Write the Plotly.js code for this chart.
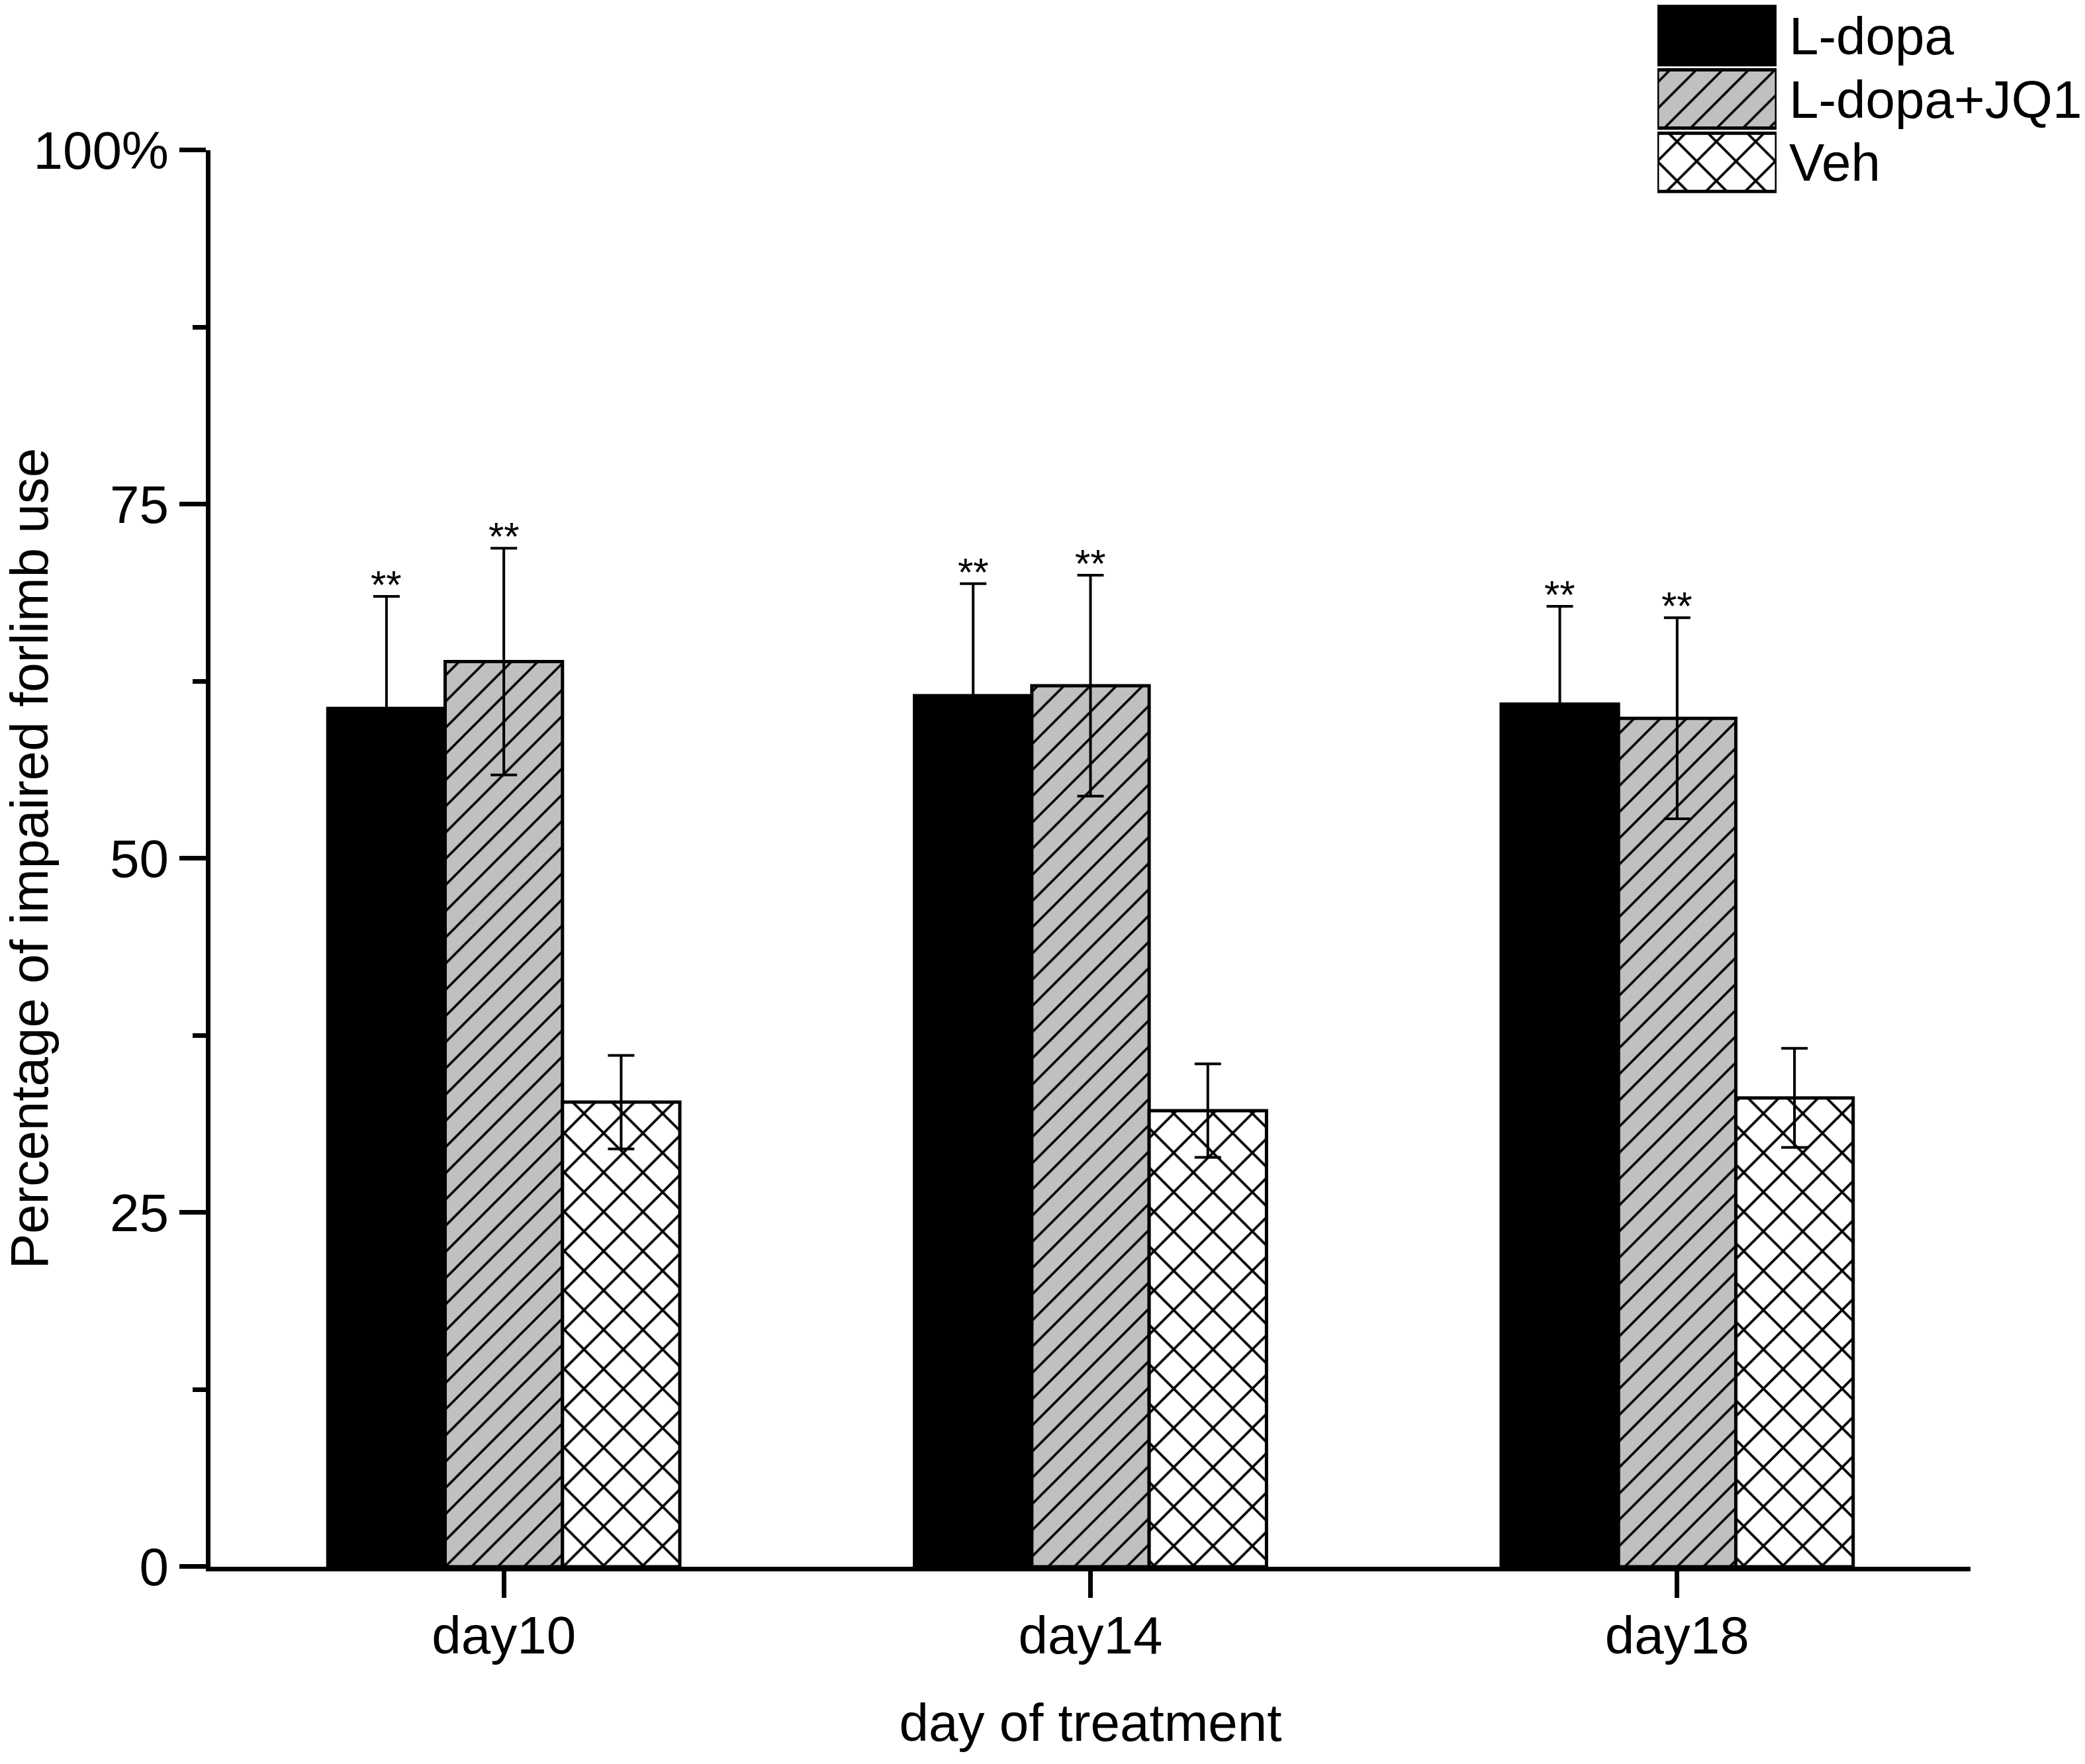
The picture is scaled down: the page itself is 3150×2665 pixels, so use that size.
<!DOCTYPE html>
<html>
<head>
<meta charset="utf-8">
<script src="https://cdn.plot.ly/plotly-3.0.1.min.js"></script>
<style>
  body { margin: 0; background: #fff; }
  #chart { width: 3150px; height: 2665px; }
</style>
</head>
<body>
<div id="chart"></div>
<script>
// categories and series
const DAYS = ['day10', 'day14', 'day18'];
const SERIES = ['L-dopa', 'L-dopa+JQ1', 'Veh'];

// percentage of impaired forelimb use (mean and error)
const L_DOPA = [60.6, 61.5, 60.9];
const L_DOPA_ERR = [7.9, 7.9, 6.9];
const L_DOPA_JQ1 = [63.9, 62.2, 59.9];
const L_DOPA_JQ1_ERR = [8.0, 7.8, 7.1];
const VEH = [32.8, 32.2, 33.1];
const VEH_ERR = [3.3, 3.3, 3.5];

// significance marks over the bars
const L_DOPA_SIG = ['**', '**', '**'];
const L_DOPA_JQ1_SIG = ['**', '**', '**'];
const VEH_SIG = ['', '', ''];

// y ticks
const Y_TICKS = [0, 25, 50, 75, 100];
const Y_TICK_TEXT = ['0', '25', '50', '75', '100%'];

// styling per series
const FILL = ['#000000', '#c0c0c0', '#ffffff'];
const HATCH = ['', '/', 'x'];
const HATCH_SIZE = [10, 28, 42];
const HATCH_SOLIDITY = [0.1, 0.13, 0.17];

const MEANS = [L_DOPA, L_DOPA_JQ1, VEH];
const ERRS = [L_DOPA_ERR, L_DOPA_JQ1_ERR, VEH_ERR];
const SIGS = [L_DOPA_SIG, L_DOPA_JQ1_SIG, VEH_SIG];

const BARGAP = 0.4;
const FONT = "'Liberation Sans', Arial, Helvetica, sans-serif";

function barMarker(i) {
    return {
        color: FILL[i],
        line: { color: '#000', width: 5 },
        pattern: {
            shape: HATCH[i],
            bgcolor: FILL[i],
            fgcolor: '#000',
            fillmode: 'replace',
            size: HATCH_SIZE[i],
            solidity: HATCH_SOLIDITY[i]
        }
    };
}

const traces = SERIES.map((name, i) => ({
    type: 'bar',
    name,
    x: DAYS,
    y: MEANS[i],
    xaxis: 'x', yaxis: 'y',
    marker: barMarker(i),
    error_y: { type: 'data', array: ERRS[i], visible: true, color: '#000', thickness: 4, width: 20 },
    hoverinfo: 'skip'
}));

// legend swatches: one horizontal bar per series on a small axis pair in the corner
SERIES.forEach((name, i) => {
    traces.push({
        type: 'bar',
        orientation: 'h',
        name: name + ' (legend)',
        y: [name],
        x: [1],
        width: 0.92,
        offsetgroup: 'legend',
        xaxis: 'x2', yaxis: 'y2',
        marker: barMarker(i),
        hoverinfo: 'skip'
    });
});

// slot width of one bar inside a group, in category units
const slot = (1 - BARGAP) / SERIES.length;
const annotations = [];
SERIES.forEach((s, i) => {
    DAYS.forEach((d, j) => {
        if (!SIGS[i][j]) return;
        annotations.push({
            xref: 'x', yref: 'y',
            x: j + (i - (SERIES.length - 1) / 2) * slot,
            y: MEANS[i][j] + ERRS[i][j],
            text: SIGS[i][j],
            showarrow: false,
            yanchor: 'bottom',
            yshift: -18,
            font: { family: FONT, size: 60, color: '#000' }
        });
    });
});

const layout = {
    width: 3150,
    height: 2665,
    margin: { l: 318, r: 173, t: 6, b: 298 },
    paper_bgcolor: '#fff',
    plot_bgcolor: 'rgba(0,0,0,0)',
    font: { family: FONT, size: 80, color: '#000' },
    barmode: 'group',
    bargap: BARGAP,
    bargroupgap: 0,
    showlegend: false,
    xaxis: {
        domain: [0, 1],
        anchor: 'y',
        type: 'category',
        range: [-0.5, 2.5],
        showline: true, linecolor: '#000', linewidth: 7,
        ticks: 'outside', ticklen: 40, tickwidth: 7, tickcolor: '#000',
        ticklabelstandoff: -12,
        showgrid: false, zeroline: false,
        tickfont: { size: 80 },
        automargin: false,
        title: { text: 'day of treatment', font: { size: 80 }, standoff: 62 }
    },
    yaxis: {
        domain: [0, 0.9064],
        anchor: 'x',
        range: [0, 100],
        tickmode: 'array',
        tickvals: Y_TICKS,
        ticktext: Y_TICK_TEXT,
        showline: true, linecolor: '#000', linewidth: 7,
        ticks: 'outside', ticklen: 40, tickwidth: 7, tickcolor: '#000',
        minor: { tickmode: 'linear', tick0: 0, dtick: 12.5, ticks: 'outside', ticklen: 20, tickwidth: 7, tickcolor: '#000', showgrid: false },
        showgrid: false, zeroline: false,
        tickfont: { size: 80 },
        automargin: false,
        title: { text: 'Percentage of impaired forlimb use', font: { size: 80 }, standoff: 30 }
    },
    xaxis2: {
        domain: [0.8221, 0.8898],
        anchor: 'y2',
        range: [0, 1],
        visible: false,
        fixedrange: true
    },
    yaxis2: {
        domain: [0.8784, 1],
        anchor: 'x2',
        type: 'category',
        categoryorder: 'array',
        categoryarray: SERIES,
        tickmode: 'array',
        tickvals: SERIES,
        ticktext: SERIES,
        autorange: 'reversed',
        side: 'right',
        showline: false, showgrid: false, zeroline: false,
        ticks: '',
        ticklabelstandoff: 18,
        tickfont: { size: 80 },
        automargin: false,
        fixedrange: true
    },
    annotations
};

Plotly.newPlot('chart', traces, layout, { displayModeBar: false, staticPlot: true });
</script>
</body>
</html>
